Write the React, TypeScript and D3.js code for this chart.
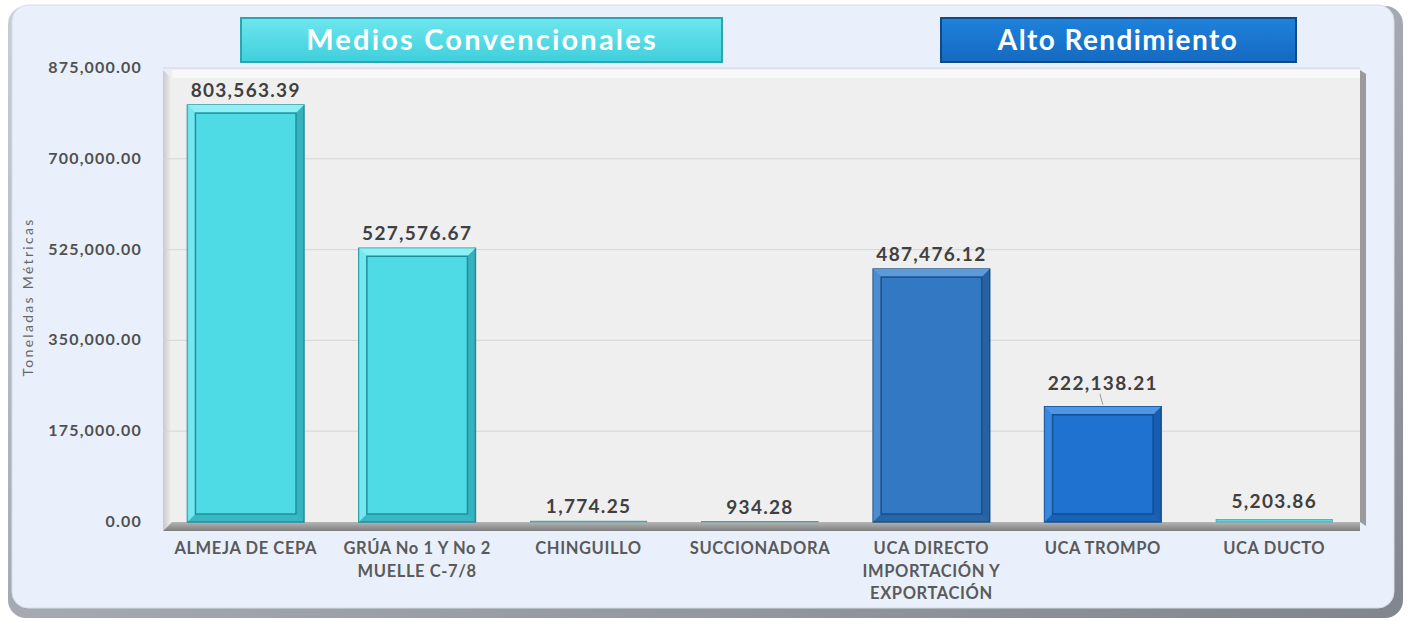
import React from "react";
import * as d3 from "d3";

const categories = [
  ["ALMEJA DE CEPA"],
  ["GRÚA No 1 Y No 2", "MUELLE C-7/8"],
  ["CHINGUILLO"],
  ["SUCCIONADORA"],
  ["UCA DIRECTO", "IMPORTACIÓN Y", "EXPORTACIÓN"],
  ["UCA TROMPO"],
  ["UCA DUCTO"],
];
const values = [803563.39, 527576.67, 1774.25, 934.28, 487476.12, 222138.21, 5203.86];
const groups = ["conv", "conv", "conv", "conv", "alto", "alto2", "conv"];
const yTicks = [0, 175000, 350000, 525000, 700000, 875000];
const headers = ["Medios Convencionales", "Alto Rendimiento"];
const yTitle = "Toneladas Métricas";

const W = 1411;
const H = 621;
const FONT = "Lato, 'Open Sans', sans-serif";

const palette: Record<string, { fill: string; light: string; dark: string }> = {
  conv: { fill: "#4fdbe6", light: "#8cf0f6", dark: "#1f8f9a" },
  alto: { fill: "#3378c2", light: "#5d9ad8", dark: "#1c4f86" },
  alto2: { fill: "#1f72cf", light: "#4d97e6", dark: "#124f93" },
};

export default function App() {
  const plotLeft = 172;
  const plotRight = 1360;
  const y = d3.scaleLinear().domain([0, 875000]).range([522, 68]);
  const x = d3
    .scaleBand<number>()
    .domain(categories.map((_, i) => i))
    .range([160, 1360])
    .paddingInner(0.32)
    .paddingOuter(0.16);
  const fmt = d3.format(",.2f");

  return (
    <svg width={W} height={H} style={{ position: "absolute", left: 0, top: 0 }}>
      <defs>
        <linearGradient id="panelShadow" x1="0" y1="0" x2="1" y2="1">
          <stop offset="0" stopColor="#c8cdd6" />
          <stop offset="1" stopColor="#80858e" />
        </linearGradient>
        <linearGradient id="floor" x1="0" y1="0" x2="0" y2="1">
          <stop offset="0" stopColor="#b5b5b5" />
          <stop offset="1" stopColor="#7d7d7d" />
        </linearGradient>
        <linearGradient id="sideWall" x1="0" y1="0" x2="1" y2="0">
          <stop offset="0" stopColor="#c9c9c9" />
          <stop offset="1" stopColor="#f3f3f3" />
        </linearGradient>
        <linearGradient id="hdrConv" x1="0" y1="0" x2="0" y2="1">
          <stop offset="0" stopColor="#6ee6ee" />
          <stop offset="1" stopColor="#3fcfdc" />
        </linearGradient>
        <linearGradient id="hdrAlto" x1="0" y1="0" x2="0" y2="1">
          <stop offset="0" stopColor="#1f82dc" />
          <stop offset="1" stopColor="#1569c0" />
        </linearGradient>
      </defs>

      {/* outer panel */}
      <rect x={8} y={6} width={1395} height={612} rx={18} fill="url(#panelShadow)" />
      <rect x={12} y={5} width={1382} height={603} rx={16} fill="#e9f0fb" stroke="#d8dde6" strokeWidth={1} />

      {/* headers */}
      <rect x={241} y={18} width={481} height={44} fill="url(#hdrConv)" stroke="#2aa6b3" strokeWidth={2} />
      <text x={482} y={50} textAnchor="middle" fontFamily={FONT} fontWeight="bold" fontSize={29} letterSpacing={2.2} fill="#ffffff">
        {headers[0]}
      </text>
      <rect x={941} y={18} width={355} height={44} fill="url(#hdrAlto)" stroke="#0f4a86" strokeWidth={2} />
      <text x={1118} y={50} textAnchor="middle" fontFamily={FONT} fontWeight="bold" fontSize={28} letterSpacing={1.4} fill="#ffffff">
        {headers[1]}
      </text>

      {/* 3D walls */}
      <polygon points={`163,70 ${plotLeft},78 ${plotLeft},522 163,531`} fill="url(#sideWall)" />
      <rect x={plotLeft} y={70} width={plotRight - plotLeft} height={452} fill="#efefef" />
      <rect x={plotLeft} y={70} width={plotRight - plotLeft} height={8} fill="#f8f8f8" />
      <polygon points={`${plotRight},70 ${plotRight + 6},74 ${plotRight + 6},526 ${plotRight},522`} fill="#9a9a9a" />
      <polygon points={`163,531 ${plotLeft},522 ${plotRight},522 ${plotRight},531`} fill="url(#floor)" />

      {/* gridlines */}
      {yTicks.slice(1).map((t) => (
        <line key={t} x1={163} x2={plotRight} y1={y(t)} y2={y(t)} stroke="#d6d6d6" strokeWidth={1} />
      ))}

      {/* y ticks */}
      {yTicks.map((t) => (
        <text key={t} x={142} y={y(t) + 5} textAnchor="end" fontFamily={FONT} fontWeight="bold" fontSize={16} letterSpacing={1.2} fill="#505050">
          {fmt(t)}
        </text>
      ))}
      <text
        transform={`translate(33,297) rotate(-90)`}
        textAnchor="middle"
        fontFamily={FONT}
        fontSize={14}
        letterSpacing={2.3}
        fill="#666"
      >
        {yTitle}
      </text>

      {/* bars */}
      {values.map((v, i) => {
        const c = palette[groups[i]];
        const bx = x(i)!;
        const bw = x.bandwidth();
        const top = y(v);
        const h = 522 - top;
        const inset = Math.min(8, h / 3);
        return (
          <g key={i}>
            <rect x={bx} y={top} width={bw} height={h} fill={c.fill} stroke={c.dark} strokeWidth={h > 6 ? 1.5 : 0.5} />
            {h > 20 && (
              <>
                <polygon
                  points={`${bx},${top} ${bx + bw},${top} ${bx + bw - inset},${top + inset} ${bx + inset},${top + inset}`}
                  fill={c.light}
                />
                <polygon
                  points={`${bx},${top} ${bx + inset},${top + inset} ${bx + inset},${522 - inset} ${bx},522`}
                  fill={c.light}
                  opacity={0.6}
                />
                <polygon
                  points={`${bx + bw},${top} ${bx + bw},522 ${bx + bw - inset},${522 - inset} ${bx + bw - inset},${top + inset}`}
                  fill={c.dark}
                  opacity={0.55}
                />
                <polygon
                  points={`${bx},522 ${bx + bw},522 ${bx + bw - inset},${522 - inset} ${bx + inset},${522 - inset}`}
                  fill={c.dark}
                  opacity={0.45}
                />
                <rect
                  x={bx + inset}
                  y={top + inset}
                  width={bw - 2 * inset}
                  height={h - 2 * inset}
                  fill={c.fill}
                  stroke={c.dark}
                  strokeWidth={1.5}
                />
              </>
            )}
          </g>
        );
      })}

      {/* value labels */}
      {values.map((v, i) => {
        const cx = x(i)! + x.bandwidth() / 2;
        const top = y(v);
        const lifted = i === 5;
        const base = lifted ? top - 17 : i === 6 ? top - 11 : top - 8;
        return (
          <g key={i}>
            {lifted && <line x1={cx} y1={top - 2} x2={cx - 3} y2={top - 13} stroke="#999" strokeWidth={1} />}
            <text x={cx} y={base} textAnchor="middle" fontFamily={FONT} fontWeight="bold" fontSize={19} letterSpacing={1.3} fill="#404040">
              {fmt(v)}
            </text>
          </g>
        );
      })}

      {/* category labels */}
      {categories.map((lines, i) => {
        const cx = x(i)! + x.bandwidth() / 2;
        return (
          <text key={i} textAnchor="middle" fontFamily={FONT} fontWeight="bold" fontSize={16.5} letterSpacing={0.6} fill="#5a5a5a">
            {lines.map((l, j) => (
              <tspan key={j} x={cx} y={554 + j * 22.5}>
                {l}
              </tspan>
            ))}
          </text>
        );
      })}
    </svg>
  );
}
